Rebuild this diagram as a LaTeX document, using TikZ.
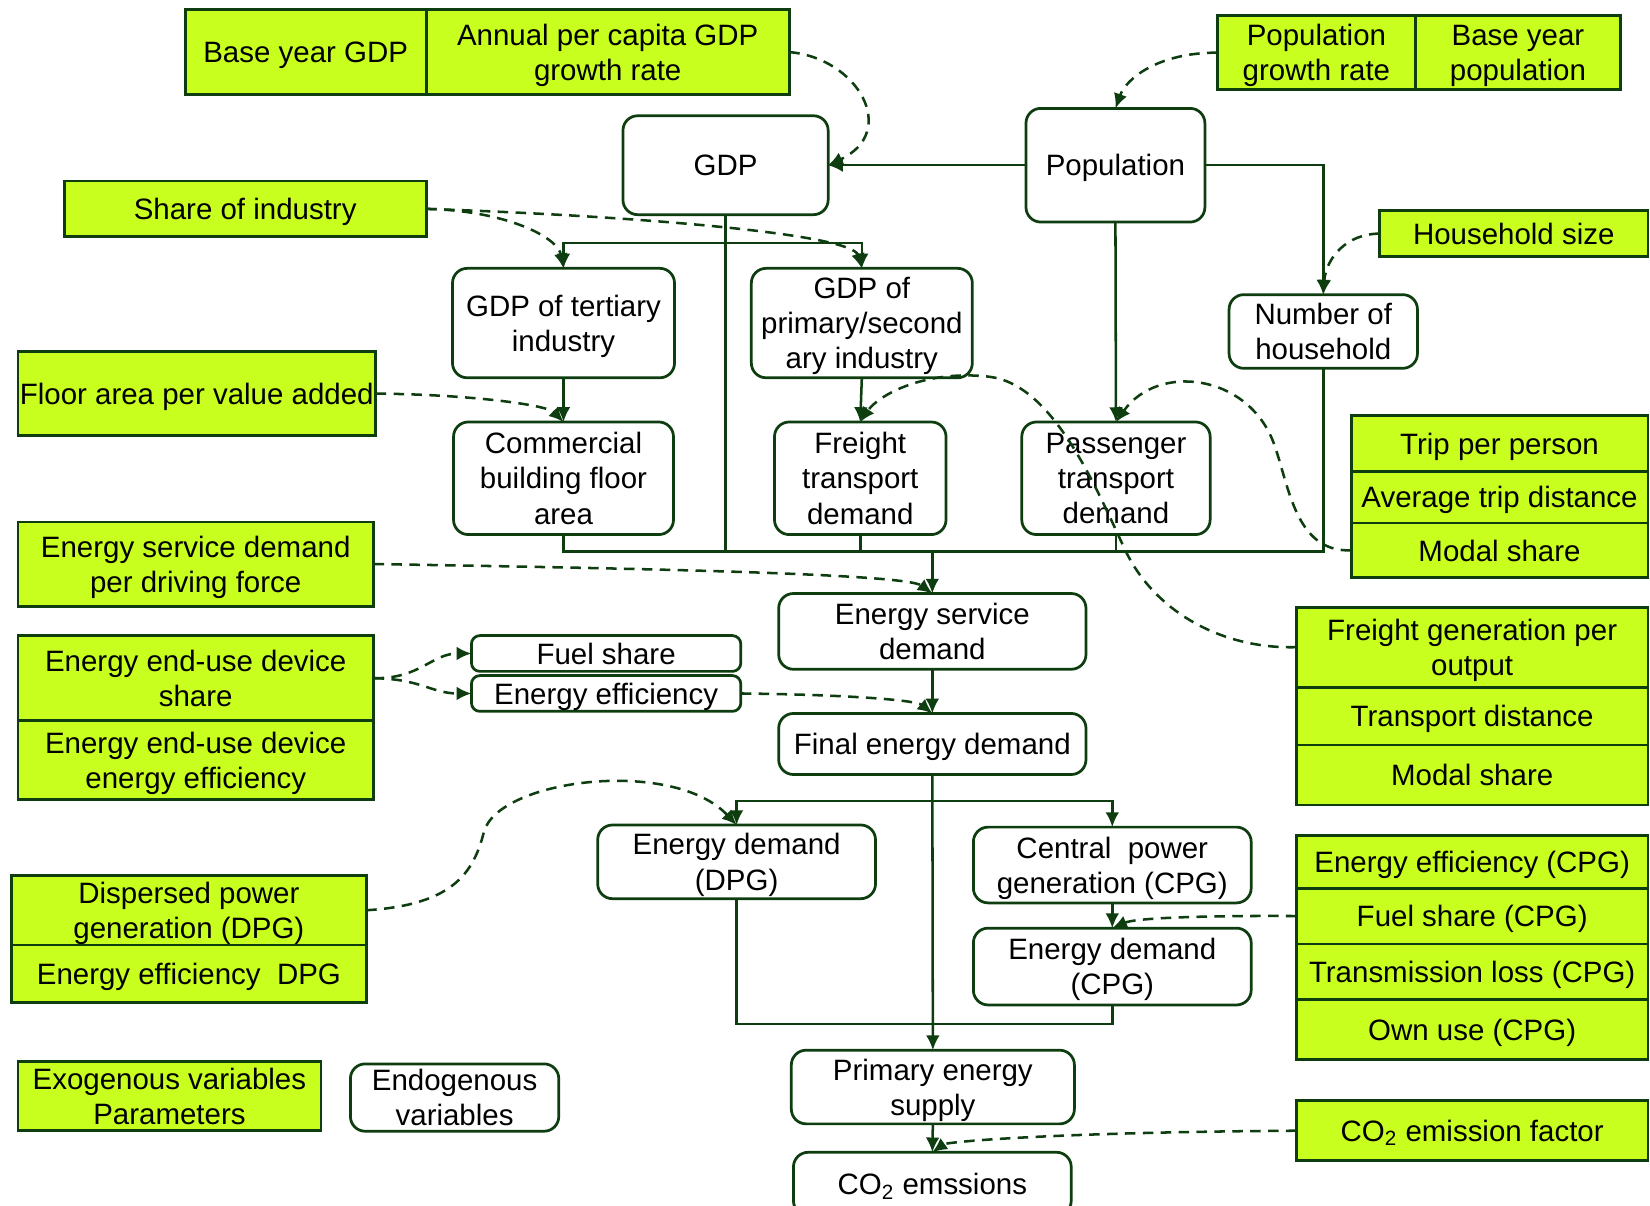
\documentclass[tikz,border=0pt]{standalone}
\usepackage{fontspec}
\setmainfont{Liberation Sans}
\usetikzlibrary{arrows.meta}
\definecolor{dkgreen}{RGB}{14,62,16}
\definecolor{lgreen}{RGB}{200,255,30}
\newcommand\mybox[7]{%
  \pgfmathsetmacro\bxcx{(#3+#5)/2}%
  \pgfmathsetmacro\bxcy{(#4+#6)/2}%
  \pgfmathsetmacro\bxw{(#5-#3)*0.5}%
  \pgfmathsetmacro\bxh{(#6-#4)*0.5}%
  \node[#1, minimum width=\bxw pt, minimum height=\bxh pt] (#2) at (\bxcx,\bxcy) {#7};}
\begin{document}
\begin{tikzpicture}[x=0.5pt,y=-0.5pt,
  base/.style={draw=dkgreen, line width=1.3pt, inner sep=0pt, outer sep=0pt, align=center,
    font=\fontsize{14pt}{16.7pt}\selectfont, text=black, text depth=0pt},
  gbox/.style={base, fill=lgreen},
  wbox/.style={base, fill=white, rounded corners=7pt},
  sbox/.style={base, fill=white, rounded corners=4pt},
  line/.style={draw=dkgreen, line width=1.2pt},
  conn/.style={line, -{Latex[length=7pt,width=6.5pt]}},
  dconn/.style={conn, dash pattern=on 5pt off 3.5pt}]
\useasboundingbox (0,0) rectangle (1568,1146);
\fill[white] (0,0) rectangle (1568,1146);
% exogenous (green) boxes
\mybox{gbox}{byg}{176}{9}{405}{90}{Base year GDP}
\mybox{gbox}{apc}{405}{9}{750}{90}{Annual per capita GDP\\growth rate}
\mybox{gbox}{pgr}{1157}{15}{1345}{85}{Population\\growth rate}
\mybox{gbox}{byp}{1345}{15}{1540}{85}{Base year\\population}
\mybox{gbox}{soi}{61}{172}{405}{225}{Share of industry}
\mybox{gbox}{hhs}{1311}{200}{1566}{244}{Household size}
\mybox{gbox}{fav}{17}{334}{357}{414}{Floor area per value added}
\mybox{gbox}{tpp}{1284}{395}{1566}{448}{Trip per person}
\mybox{gbox}{atd}{1284}{448}{1566}{497}{Average trip distance}
\mybox{gbox}{ms1}{1284}{497}{1566}{549}{Modal share}
\mybox{gbox}{esd}{17}{496}{355}{576}{Energy service demand\\per driving force}
\mybox{gbox}{eeu1}{17}{604}{355}{685}{Energy end-use device\\share}
\mybox{gbox}{eeu2}{17}{685}{355}{760}{Energy end-use device\\energy efficiency}
\mybox{gbox}{fgo}{1232}{577}{1566}{653}{Freight generation per\\output}
\mybox{gbox}{td}{1232}{653}{1566}{708}{Transport distance}
\mybox{gbox}{ms2}{1232}{708}{1566}{765}{Modal share}
\mybox{gbox}{dpg}{11}{832}{348}{898}{Dispersed power\\generation (DPG)}
\mybox{gbox}{eed}{11}{898}{348}{953}{Energy efficiency\ \ DPG}
\mybox{gbox}{eec}{1232}{794}{1566}{844}{Energy efficiency (CPG)}
\mybox{gbox}{fsc}{1232}{844}{1566}{897}{Fuel share (CPG)}
\mybox{gbox}{tlc}{1232}{897}{1566}{950}{Transmission loss (CPG)}
\mybox{gbox}{ouc}{1232}{950}{1566}{1007}{Own use (CPG)}
\mybox{gbox}{cef}{1232}{1046}{1566}{1103}{CO\textsubscript{2} emission factor}
\mybox{gbox}{exo}{17}{1009}{305}{1074}{Exogenous variables\\Parameters}
% endogenous (white) boxes
\mybox{wbox}{gdp}{592}{110}{787}{204}{GDP}
\mybox{wbox}{pop}{975}{103}{1145}{211}{Population}
\mybox{wbox}{gti}{430}{255}{641}{359}{GDP of tertiary\\industry}
\mybox{wbox}{gps}{714}{255}{924}{359}{GDP of\\primary/second\\ary industry}
\mybox{wbox}{noh}{1168}{280}{1347}{350}{Number of\\household}
\mybox{wbox}{cbf}{431}{401}{640}{508}{Commercial\\building floor\\area}
\mybox{wbox}{ftd}{736}{401}{899}{508}{Freight\\transport\\demand}
\mybox{wbox}{ptd}{971}{401}{1150}{508}{Passenger\\transport\\demand}
\mybox{wbox}{esv}{740}{564}{1032}{636}{Energy service\\demand}
\mybox{sbox}{fus}{448}{604}{704}{638}{Fuel share}
\mybox{sbox}{eef}{448}{642}{704}{676}{Energy efficiency}
\mybox{wbox}{fed}{740}{678}{1032}{736}{Final energy demand}
\mybox{wbox}{edd}{568}{784}{832}{854}{Energy demand\\(DPG)}
\mybox{wbox}{cpg}{925}{786}{1189}{858}{Central\ \ power\\generation (CPG)}
\mybox{wbox}{edc}{925}{882}{1189}{955}{Energy demand\\(CPG)}
\mybox{wbox}{pes}{752}{998}{1021}{1068}{Primary energy\\supply}
\mybox{wbox}{co2}{754}{1095}{1018}{1155}{CO\textsubscript{2} emssions}
\mybox{wbox}{endo}{333}{1011}{531}{1075}{Endogenous\\variables}
% junction coordinates
\coordinate (br1) at (689.5,231);
\coordinate (bus) at (886,524);
\coordinate (br2) at (886,761);
\coordinate (bus2) at (886,973);
% solid connectors
\draw[conn] (pop.west) -- (gdp.east);
\draw[conn] (pop.east) -| (noh.north);
\draw[conn] (pop.south) -- (ptd.north);
\draw[line] (gdp.south) -- (gdp.south |- bus);
\draw[conn] (br1) -| (gti.north);
\draw[conn] (br1) -| (gps.north);
\draw[conn] (gti.south) -- (cbf.north);
\draw[conn] (gps.south) -- (ftd.north);
\draw[line] (cbf.south) |- (noh.south |- bus) -- (noh.south);
\draw[line] (ftd.south) -- (ftd.south |- bus);
\draw[line] (ptd.south) -- (ptd.south |- bus);
\draw[conn] (bus) -- (esv.north);
\draw[conn] (esv.south) -- (fed.north);
\draw[conn] (fed.south) -- (pes.north);
\draw[conn] (br2) -| (edd.north);
\draw[conn] (br2) -| (cpg.north);
\draw[conn] (cpg.south) -- (edc.north);
\draw[line] (edd.south) |- (edc.south |- bus2) -- (edc.south);
\draw[conn] (pes.south) -- (co2.north);
% dashed connectors
\draw[dconn] (apc.east) .. controls (815,55) and (855,125) .. (gdp.east);
\draw[dconn] (pgr.west) .. controls (1100,50) and (1070,75) .. (pop.north);
\draw[dconn] (soi.east) .. controls (480,200) and (530,225) .. (gti.north);
\draw[dconn] (soi.east) .. controls (600,205) and (810,222) .. (gps.north);
\draw[dconn] (hhs.west) .. controls (1280,222) and (1260,245) .. (noh.north);
\draw[dconn] (fav.east) .. controls (450,375) and (520,385) .. (cbf.north);
\draw[dconn] (ms1.west) .. controls (1230,525) and (1225,460) .. (1210,420)
  .. controls (1185,355) and (1100,345) .. (ptd.north);
\draw[dconn] (fgo.west) .. controls (1160,617) and (1095,580) .. (1068,520)
  .. controls (1040,460) and (1000,365) .. (940,358)
  .. controls (880,351) and (835,375) .. (ftd.north);
\draw[dconn] (esd.east) .. controls (600,540) and (860,545) .. (esv.north);
\draw[dconn] (eeu1.east) .. controls (400,645) and (410,621) .. (fus.west);
\draw[dconn] (eeu1.east) .. controls (400,645) and (410,659) .. (eef.west);
\draw[dconn] (eef.east) .. controls (800,660) and (870,665) .. (fed.north);
\draw[dconn] (dpg.east) .. controls (430,860) and (450,830) .. (460,790)
  .. controls (475,740) and (640,720) .. (edd.north);
\draw[dconn] (fsc.west) .. controls (1150,870) and (1080,872) .. (edc.north);
\draw[dconn] (cef.west) .. controls (1000,1076) and (900,1085) .. (co2.north);
\end{tikzpicture}
\end{document}
